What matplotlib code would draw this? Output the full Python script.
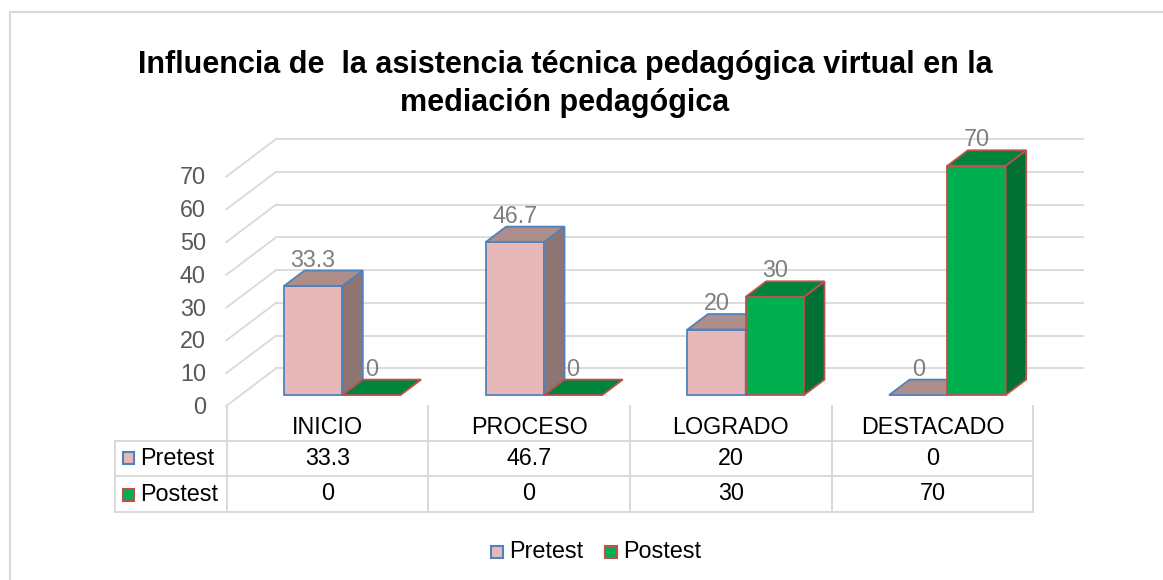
import matplotlib
matplotlib.use("Agg")
import matplotlib.pyplot as plt
from matplotlib.patches import Polygon, Rectangle

# Datos del gráfico
categorias = ["INICIO", "PROCESO", "LOGRADO", "DESTACADO"]
series = ["Pretest", "Postest"]
pretest = [33.3, 46.7, 20, 0]
postest = [0, 0, 30, 70]
ticks_y = [0, 10, 20, 30, 40, 50, 60, 70]
titulo = ["Influencia de  la asistencia técnica pedagógica virtual en la",
          "mediación pedagógica"]

plt.rcParams["font.family"] = ["Liberation Sans", "DejaVu Sans"]
FS = 16.8

W, H = 1163, 580
fig = plt.figure(figsize=(W / 100, H / 100), dpi=100)

# eje principal: x en categorías, y en valores (con proyección "3D" simple)
X0, PX_CAT = 327.8, 201.7      # píxel del centro de la 1a categoría, px por categoría
Y0, PX_VAL = 406.0, 3.276      # píxel del valor 0 (frente), px por unidad
ax = fig.add_axes([0, 0, 1, 1])
ax.set_xlim((0 - X0) / PX_CAT, (W - X0) / PX_CAT)
ax.set_ylim((Y0 - H) / PX_VAL, Y0 / PX_VAL)
ax.axis("off")

DX = 50 / PX_CAT       # profundidad de la pared
DY = 37.7 / PX_VAL
D1, D2 = 0.29, 0.70    # profundidad de las barras
BW = 0.289
x_izq, x_der = -0.504, 3.496
grid_col = "#d9d9d9"

# paredes y líneas de cuadrícula
for v in ticks_y:
    ax.plot([x_izq, x_izq + DX], [v, v + DY], color=grid_col, lw=1.3, zorder=1)
    ax.plot([x_izq + DX, x_der + DX], [v + DY, v + DY], color=grid_col, lw=1.3, zorder=1)
    ax.text(x_izq - 0.1, v - 0.4, str(v), ha="right", va="center",
            fontsize=FS, color="#595959")

estilos = {
    "Pretest": dict(front="#e6b9b8", top="#ae8e8a", side="#8f7572", edge="#4f81bd"),
    "Postest": dict(front="#00b050", top="#00843b", side="#007033", edge="#c0504d"),
}


def caja(x0, x1, v, st, z):
    def p(x, y, d):
        return (x + d * DX, y + d * DY)
    kw = dict(edgecolor=st["edge"], lw=1.3, zorder=z, joinstyle="miter")
    if v > 0:
        ax.add_patch(Polygon([p(x0, 0, D1), p(x1, 0, D1), p(x1, v, D1), p(x0, v, D1)],
                             facecolor=st["front"], **kw))
        ax.add_patch(Polygon([p(x1, 0, D1), p(x1, 0, D2), p(x1, v, D2), p(x1, v, D1)],
                             facecolor=st["side"], **kw))
    ax.add_patch(Polygon([p(x0, v, D1), p(x1, v, D1), p(x1, v, D2), p(x0, v, D2)],
                         facecolor=st["top"], **kw))


z = 3
for i, cat in enumerate(categorias):
    for j, (nombre, vals) in enumerate(zip(series, [pretest, postest])):
        x0 = i - BW + j * BW
        x1 = x0 + BW
        caja(x0, x1, vals[i], estilos[nombre], z)
        z += 1
        ax.text((x0 + x1) / 2 + D1 * DX, vals[i] + D2 * DY + 3.2, f"{vals[i]:g}",
                ha="center", va="center", fontsize=FS, color="#7f7f7f", zorder=50)

# capa de diseño en píxeles (título, tabla de datos, leyenda)
ov = fig.add_axes([0, 0, 1, 1], facecolor="none")
ov.set_xlim(0, W)
ov.set_ylim(H, 0)
ov.axis("off")

ov.plot([10, 10, W], [H, 12, 12], color=grid_col, lw=1.5)

for linea, yb in zip(titulo, [73.5, 111]):
    ov.text(565, yb, linea, ha="center", va="baseline", fontsize=22,
            fontweight="bold", color="#000000")

# tabla de datos
t_left, col0 = 114.5, 226.5
col_w = PX_CAT
col_edges = [col0 + k * col_w for k in range(len(categorias) + 1)]
r_top, r1, r2, r_bot = 406, 440.7, 476, 511.5
tab_kw = dict(color=grid_col, lw=1.4)
for xe in col_edges:
    ov.plot([xe, xe], [r_top, r_bot], **tab_kw)
ov.plot([t_left, t_left], [r1, r_bot], **tab_kw)
for ye in [r1, r2, r_bot]:
    ov.plot([t_left, col_edges[-1]], [ye, ye], **tab_kw)

for k, cat in enumerate(categorias):
    cx = col0 + (k + 0.5) * col_w
    ov.text(cx, 427.5, cat, ha="center", va="center", fontsize=FS, color="#000000")
    ov.text(cx, 458.5, f"{pretest[k]:g}", ha="center", va="center", fontsize=FS)
    ov.text(cx, 493.5, f"{postest[k]:g}", ha="center", va="center", fontsize=FS)

for nombre, yc in zip(series, [458.2, 494.7]):
    st = estilos[nombre]
    ov.add_patch(Rectangle((122.8, yc - 6), 11.5, 12, facecolor=st["front"],
                           edgecolor=st["edge"], lw=1.5))
    ov.text(140.5, yc, nombre, ha="left", va="center", fontsize=FS)

# leyenda inferior
for nombre, xs in zip(series, [491, 605]):
    st = estilos[nombre]
    ov.add_patch(Rectangle((xs, 545.5), 12, 12, facecolor=st["front"],
                           edgecolor=st["edge"], lw=1.5))
    ov.text(xs + 18.5, 551.5, nombre, ha="left", va="center", fontsize=FS)

fig.savefig("out.png", dpi=100)
